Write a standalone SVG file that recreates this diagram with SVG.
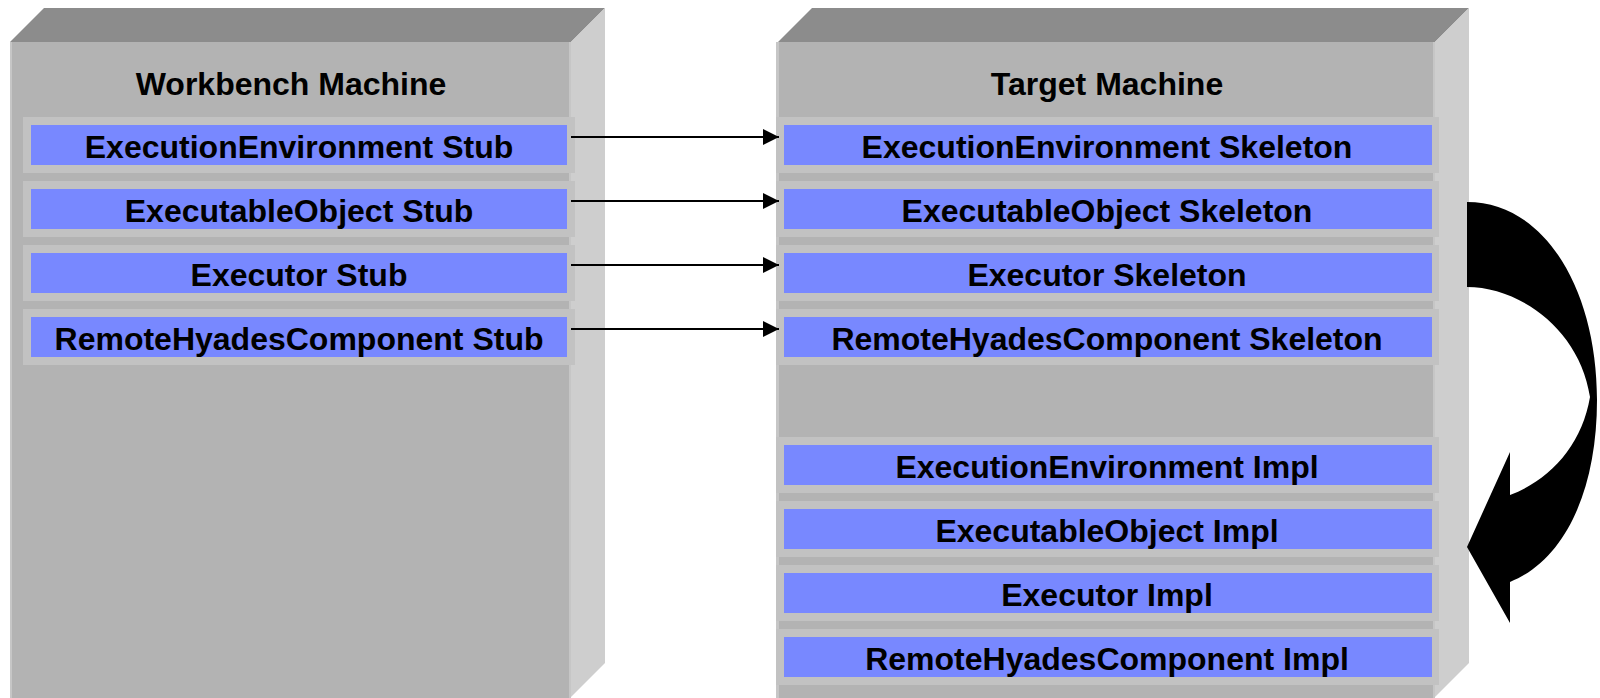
<svg xmlns="http://www.w3.org/2000/svg" width="1600" height="698" viewBox="0 0 1600 698">
<style>
.top{fill:#8c8c8c}
.front{fill:#b3b3b3}
.side{fill:#cecece}
.edge{fill:#c6c6c6}
.frame{fill:#c2c2c2}
.bar{fill:#7888ff}
.title{font-family:"Liberation Sans",Arial,sans-serif;font-weight:bold;font-size:32px;fill:#000;text-anchor:middle}
.lbl{font-family:"Liberation Sans",Arial,sans-serif;font-weight:bold;font-size:32px;fill:#000;text-anchor:middle}
.conn{stroke:#000;stroke-width:2;fill:none}
</style>
<defs>
<marker id="ah" markerWidth="16" markerHeight="16" viewBox="0 0 16 16" refX="16" refY="8" orient="auto" markerUnits="userSpaceOnUse">
<path d="M0,0 L16,8 L0,16 Z" fill="#000"/>
</marker>
</defs>
<rect width="1600" height="698" fill="#fff"/>

<g id="workbench-machine">
<polygon class="top" points="10,42 44,8 605,8 571,42"/>
<polygon class="side" points="571,42 605,8 605,663 571,697"/>
<rect class="front" x="10" y="42" width="561" height="656"/>
<rect class="edge" x="10" y="42" width="2" height="656"/>
<rect class="edge" x="569" y="42" width="2" height="656"/>
<text class="title" x="291" y="95">Workbench Machine</text>
</g>

<g id="target-machine">
<polygon class="top" points="778,42 812,8 1469,8 1435,42"/>
<polygon class="side" points="1435,42 1469,8 1469,663 1435,697"/>
<rect class="front" x="777" y="42" width="658" height="656"/>
<rect class="edge" x="776" y="42" width="3" height="656"/>
<rect class="edge" x="1433" y="42" width="2" height="656"/>
<text class="title" x="1107" y="95">Target Machine</text>
</g>

<g id="ee-stub"><rect class="frame" x="23" y="117" width="552" height="56"/><rect class="bar" x="31" y="125" width="536" height="40"/><text class="lbl" x="299" y="157.5">ExecutionEnvironment Stub</text></g>
<g id="eo-stub"><rect class="frame" x="23" y="181" width="552" height="56"/><rect class="bar" x="31" y="189" width="536" height="40"/><text class="lbl" x="299" y="221.5">ExecutableObject Stub</text></g>
<g id="ex-stub"><rect class="frame" x="23" y="245" width="552" height="56"/><rect class="bar" x="31" y="253" width="536" height="40"/><text class="lbl" x="299" y="285.5">Executor Stub</text></g>
<g id="rhc-stub"><rect class="frame" x="23" y="309" width="552" height="56"/><rect class="bar" x="31" y="317" width="536" height="40"/><text class="lbl" x="299" y="349.5">RemoteHyadesComponent Stub</text></g>

<g id="ee-skel"><rect class="frame" x="776" y="117" width="663" height="56"/><rect class="bar" x="784" y="125" width="648" height="40"/><text class="lbl" x="1107" y="157.5">ExecutionEnvironment Skeleton</text></g>
<g id="eo-skel"><rect class="frame" x="776" y="181" width="663" height="56"/><rect class="bar" x="784" y="189" width="648" height="40"/><text class="lbl" x="1107" y="221.5">ExecutableObject Skeleton</text></g>
<g id="ex-skel"><rect class="frame" x="776" y="245" width="663" height="56"/><rect class="bar" x="784" y="253" width="648" height="40"/><text class="lbl" x="1107" y="285.5">Executor Skeleton</text></g>
<g id="rhc-skel"><rect class="frame" x="776" y="309" width="663" height="56"/><rect class="bar" x="784" y="317" width="648" height="40"/><text class="lbl" x="1107" y="349.5">RemoteHyadesComponent Skeleton</text></g>

<g id="ee-impl"><rect class="frame" x="776" y="437" width="663" height="56"/><rect class="bar" x="784" y="445" width="648" height="40"/><text class="lbl" x="1107" y="477.5">ExecutionEnvironment Impl</text></g>
<g id="eo-impl"><rect class="frame" x="776" y="501" width="663" height="56"/><rect class="bar" x="784" y="509" width="648" height="40"/><text class="lbl" x="1107" y="541.5">ExecutableObject Impl</text></g>
<g id="ex-impl"><rect class="frame" x="776" y="565" width="663" height="56"/><rect class="bar" x="784" y="573" width="648" height="40"/><text class="lbl" x="1107" y="605.5">Executor Impl</text></g>
<g id="rhc-impl"><rect class="frame" x="776" y="629" width="663" height="56"/><rect class="bar" x="784" y="637" width="648" height="40"/><text class="lbl" x="1107" y="669.5">RemoteHyadesComponent Impl</text></g>

<g id="connectors">
<line class="conn" x1="571" y1="137" x2="779" y2="137" marker-end="url(#ah)"/>
<line class="conn" x1="571" y1="201" x2="779" y2="201" marker-end="url(#ah)"/>
<line class="conn" x1="571" y1="265" x2="779" y2="265" marker-end="url(#ah)"/>
<line class="conn" x1="571" y1="329" x2="779" y2="329" marker-end="url(#ah)"/>
<path id="skeleton-to-impl" fill="#000" d="M1467,202 C1545,202 1597,290 1597,400 C1597,490 1565,560 1510,582 L1510,623 L1467,547 L1510,452 L1510,495 C1550,480 1582,445 1590,397 C1580,330 1520,287 1467,287 Z"/>
</g>
</svg>
